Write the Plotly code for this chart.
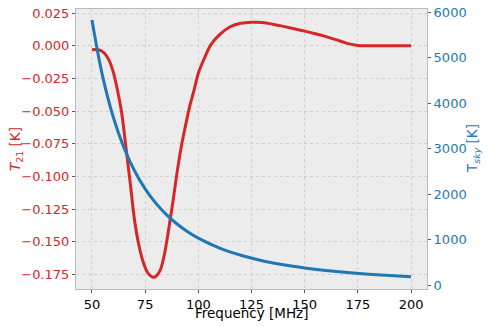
import plotly.graph_objects as go

# 21-cm signal
freq_t21 = [50, 52, 54, 56, 58, 60, 62, 64, 66, 68, 70, 72, 74, 76, 78, 79, 80,
            82, 84, 86, 88, 90, 92, 94, 96, 98, 100, 103, 106, 110, 115, 120,
            125, 130, 135, 140, 145, 150, 155, 160, 165, 170, 175, 180, 190, 200]
t21 = [-0.003, -0.003, -0.0035, -0.006, -0.011, -0.020, -0.034, -0.0516, -0.078,
       -0.105, -0.133, -0.152, -0.165, -0.173, -0.1765, -0.177, -0.1765,
       -0.172, -0.160, -0.141, -0.120, -0.097, -0.077, -0.061, -0.046, -0.034,
       -0.021, -0.009, 0.001, 0.0085, 0.0145, 0.0172,
       0.018, 0.0178, 0.0165, 0.0148, 0.013, 0.0112, 0.0092, 0.007, 0.0045,
       0.0018, 0.0002, 0.0, 0.0, 0.0]

# sky temperature
freq_sky = [50, 55, 60, 65, 70, 75, 80, 85, 90, 95, 100, 110, 120, 130, 140,
            150, 160, 170, 180, 190, 200]
t_sky = [5824, 4589, 3692, 3022, 2511, 2113, 1799, 1546, 1340, 1170, 1029,
         811, 653, 534, 444, 374, 318, 273, 237, 207, 182]

x_ticks = [50, 75, 100, 125, 150, 175, 200]
t21_ticks = [0.025, 0.0, -0.025, -0.05, -0.075, -0.1, -0.125, -0.15, -0.175]
sky_ticks = [0, 1000, 2000, 3000, 4000, 5000, 6000]

RED = "#d62728"
BLUE = "#1f77b4"
FONT = "DejaVu Sans"

fig = go.Figure()
fig.add_trace(go.Scatter(x=freq_t21, y=t21, mode="lines", yaxis="y",
                         line=dict(color=RED, width=3, shape="spline")))
fig.add_trace(go.Scatter(x=freq_sky, y=t_sky, mode="lines", yaxis="y2",
                         line=dict(color=BLUE, width=3, shape="spline")))

axis_common = dict(zeroline=False, automargin=False, ticks="outside",
                   ticklen=3, tickcolor="#555555", ticklabeloverflow="allow")

# page body keeps its 8px margin, so the figure is drawn 8px in
fig.update_layout(
    width=483, height=319,
    margin=dict(l=68, r=64, t=1, b=38),
    paper_bgcolor="white",
    plot_bgcolor="#ececec",
    showlegend=False,
    font=dict(family=FONT, size=13, color="black"),
    xaxis=dict(
        range=[42.5, 207.5], tickvals=x_ticks,
        showgrid=True, gridcolor="#d0d0d0", griddash="dot", gridwidth=1,
        showline=True, linecolor="#bcbcbc", mirror=True, **axis_common,
    ),
    yaxis=dict(
        range=[-0.186, 0.0281], tickvals=t21_ticks, tickformat=".3f",
        tickfont=dict(color=RED),
        showgrid=True, gridcolor="#d0d0d0", griddash="dot", gridwidth=1,
        showline=True, linecolor="#bcbcbc", mirror=True, **axis_common,
    ),
    yaxis2=dict(
        range=[-88, 6066], tickvals=sky_ticks, overlaying="y", side="right",
        tickfont=dict(color=BLUE),
        showgrid=False, showline=False, **axis_common,
    ),
)

# axis titles placed by hand so the fixed margins are kept
fig.add_annotation(text="Frequency [MHz]", xref="paper", yref="paper",
                   x=0.5, y=0, yshift=-24, xanchor="center", yanchor="middle",
                   showarrow=False, font=dict(size=13.5, color="black"))
fig.add_annotation(text="<i>T</i><sub>21</sub> [K]", xref="paper", yref="paper",
                   x=0, y=0.5, xshift=-60, xanchor="center", yanchor="middle",
                   textangle=-90, showarrow=False, font=dict(size=13.5, color=RED))
fig.add_annotation(text="T<sub><i>sky</i></sub> [K]", xref="paper", yref="paper",
                   x=1, y=0.5, xshift=46, xanchor="center", yanchor="middle",
                   textangle=-90, showarrow=False, font=dict(size=13.5, color=BLUE))

fig.write_html("out.html")
